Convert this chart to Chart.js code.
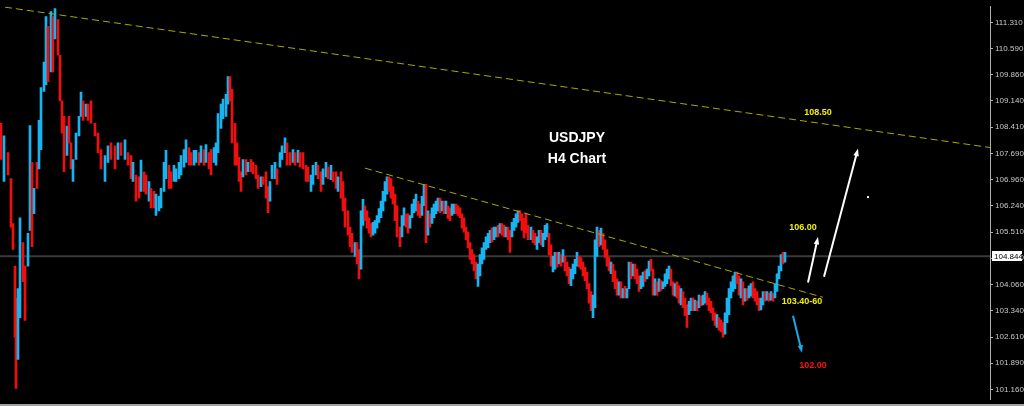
<!DOCTYPE html>
<html>
<head>
<meta charset="utf-8">
<title>USDJPY H4 Chart</title>
<script src="https://cdn.jsdelivr.net/npm/chart.js@4.4.1/dist/chart.umd.min.js"></script>
<style>
    html, body { margin: 0; padding: 0; background: #000; overflow: hidden; }
    #chartContainer { width: 1024px; height: 406px; }
</style>
</head>
<body>
<div id="chartContainer"><canvas id="chartCanvas" width="1024" height="406"></canvas></div>
<script>
// Bar position (H4 bars from the left edge)
const bars = [
    1,4,8,11,13,15,16,18,20,23,25,28,30,32,34,37,39,41,44,46,48,51,53,55,58,60,62,64,67,69,71,73,76,79,81,83,86,88,91,95,98,101,105,108,111,115,118,121,125,128,
    131,133,136,139,141,144,146,149,151,154,156,159,161,164,166,169,171,174,176,179,181,184,186,189,191,194,196,199,201,204,206,209,211,214,216,218,221,223,226,228,230,232,235,237,239,241,243,246,248,251,253,256,258,261,263,266,268,
    270,272,275,277,280,282,285,287,290,293,295,298,300,303,306,308,311,313,316,318,321,323,326,328,331,333,336,338,341,343,345,348,350,352,355,357,359,361,363,365,367,369,371,373,375,377,379,381,383,385,387,389,391,393,395,397,
    400,402,404,406,408,410,412,414,416,418,420,422,424,426,428,430,432,434,436,438,440,442,444,446,448,450,452,454,456,458,460,462,464,466,468,470,472,474,476,478,480,482,484,486,488,490,492,494,496,498,500,502,504,506,508,510,512,514,516,518,520,522,524,
    526,528,531,533,535,537,539,541,543,545,547,549,551,553,555,557,559,561,563,565,567,569,571,573,575,577,579,581,583,585,587,589,591,593,595,597,599,601,603,605,607,609,611,613,615,617,619,621,623,625,627,629,631,633,635,637,639,641,643,645,647,649,651,653,655,
    657,659,661,663,665,667,669,671,673,675,677,679,681,683,685,687,689,691,693,695,697,699,701,703,705,707,709,711,713,715,717,719,721,723,725,727,729,731,733,735,737,739,741,743,745,747,749,751,753,755,757,759,761,763,765,767,769,771,773,775,777,779,781,783,785
];

const highs = [
    108.52,108.17,107.71,106.99,105.75,104.57,103.69,103.95,105.91,105.22,104.57,105.48,108.46,107.44,106.72,107.44,108.60,109.51,110.21,111.47,111.20,111.61,111.47,111.69,111.39,110.40,109.14,108.71,108.44,108.71,107.98,107.52,108.25,108.71,109.38,109.14,109.05,109.05,109.14,108.52,108.25,107.79,107.63,107.90,107.98,107.90,107.98,107.98,108.06,107.71,
    107.63,107.44,107.09,107.04,107.50,107.18,107.09,106.91,106.72,106.64,106.56,106.50,106.72,107.44,107.77,107.36,107.18,107.36,107.26,107.44,107.63,107.79,108.06,107.85,107.71,107.77,107.77,107.71,107.90,107.79,107.93,107.71,107.79,107.85,107.98,108.79,109.05,109.19,109.32,109.81,109.81,109.46,108.52,107.98,107.58,107.18,107.52,107.52,107.44,107.52,107.44,107.36,107.09,107.04,107.04,107.18,106.77,
    106.91,107.36,107.44,107.26,107.71,107.90,108.12,107.98,107.71,107.79,107.71,107.77,107.71,107.71,107.36,107.31,107.09,107.36,107.44,107.36,107.18,107.26,107.44,107.31,107.36,107.18,107.18,107.04,107.18,106.91,106.45,106.10,105.65,105.48,105.22,105.22,105.03,106.10,106.42,106.24,106.10,105.91,105.75,105.78,105.83,105.97,106.16,106.37,106.64,106.91,107.04,107.04,106.99,106.77,106.56,106.24,
    105.65,105.97,106.18,106.02,106.02,105.97,106.29,106.42,106.56,106.37,106.29,106.50,106.83,106.83,106.10,106.02,106.18,106.29,106.37,106.45,106.45,106.37,106.37,106.37,106.24,106.18,106.29,106.29,106.29,106.24,106.18,106.02,105.91,105.65,105.51,105.22,105.03,104.89,104.68,104.63,104.89,105.08,105.22,105.38,105.48,105.56,105.62,105.65,105.65,105.70,105.75,105.75,105.70,105.65,105.65,105.56,105.78,105.89,106.02,106.10,106.10,106.02,105.89,
    106.02,105.70,105.65,105.56,105.48,105.38,105.56,105.56,105.48,105.70,105.75,105.48,105.16,104.84,104.95,104.95,104.95,104.89,105.03,104.84,104.68,104.54,104.49,104.63,104.76,104.95,104.84,104.81,104.68,104.54,104.41,104.09,103.87,103.77,105.30,105.65,105.56,105.62,105.48,105.30,105.03,104.81,104.68,104.63,104.44,104.22,104.14,104.14,103.95,104.01,103.95,104.68,104.68,104.63,104.63,104.49,104.30,104.30,104.41,104.44,104.49,104.71,104.76,104.49,104.22,
    104.14,104.22,104.17,104.14,104.36,104.49,104.57,104.49,104.14,104.09,104.14,104.03,103.95,103.87,103.69,103.50,103.60,103.69,103.69,103.63,103.60,103.77,103.74,103.77,103.87,103.82,103.69,103.60,103.42,103.28,103.23,103.15,103.09,103.01,103.28,103.69,103.95,104.14,104.30,104.41,104.41,104.30,104.22,104.14,103.95,103.95,104.03,104.09,104.14,103.95,103.87,103.69,103.69,103.87,103.87,103.87,103.82,103.87,103.82,104.09,104.36,104.57,104.89,104.95,104.95
];

const lows = [
    107.52,106.91,107.09,105.65,105.03,102.61,101.19,101.99,103.15,104.14,103.07,104.57,105.56,105.11,106.02,106.72,107.26,107.79,109.40,109.59,109.67,109.94,109.94,110.85,110.40,109.14,108.25,107.18,107.63,107.98,107.26,106.91,107.52,108.17,108.71,108.60,108.71,108.60,108.52,108.17,107.71,107.26,106.91,107.44,107.52,107.26,107.52,107.63,107.52,107.36,
    106.99,106.91,106.37,106.45,106.64,106.64,106.56,106.37,106.18,106.18,105.97,106.10,106.18,106.64,106.99,106.72,106.72,106.91,106.91,106.99,107.09,107.31,107.44,107.36,107.36,107.36,107.44,107.36,107.44,107.36,107.44,107.26,107.09,107.44,107.36,107.71,108.38,108.65,108.71,109.05,109.14,107.98,107.36,107.36,106.91,106.64,107.04,107.09,107.18,107.18,107.12,106.99,106.72,106.77,106.83,106.45,106.05,
    106.37,106.99,106.99,106.83,107.31,107.52,107.71,107.36,107.36,107.44,107.36,107.44,107.31,107.26,106.91,106.91,106.64,106.83,107.09,106.99,106.64,106.83,107.04,106.99,106.96,106.91,106.72,106.64,106.45,106.10,105.65,105.43,105.11,104.95,104.84,104.63,104.22,104.49,105.70,105.83,105.62,105.48,105.38,105.43,105.48,105.62,105.78,105.91,106.10,106.37,106.56,106.64,106.45,106.29,105.83,105.38,
    105.11,105.38,105.70,105.65,105.48,105.62,105.91,106.05,106.10,105.97,105.91,105.97,106.24,105.22,105.43,105.65,105.75,105.91,106.02,106.10,106.05,106.10,106.02,106.02,105.89,105.83,105.97,106.02,106.02,105.97,105.91,105.62,105.51,105.30,105.08,104.76,104.63,104.44,104.22,104.01,104.30,104.63,104.76,105.03,105.08,105.22,105.24,105.30,105.38,105.38,105.48,105.43,105.38,105.38,105.30,104.95,105.38,105.56,105.65,105.78,105.83,105.56,105.35,
    105.48,105.30,105.30,105.22,105.16,105.03,105.22,105.16,105.11,105.30,105.38,104.89,104.57,104.41,104.49,104.54,104.63,104.57,104.68,104.44,104.30,104.09,104.03,104.22,104.36,104.57,104.54,104.49,104.30,104.17,103.95,103.55,103.34,103.15,103.42,104.84,105.11,105.16,105.03,104.81,104.57,104.44,104.36,104.14,103.95,103.77,103.77,103.69,103.69,103.69,103.69,103.95,104.22,104.30,104.22,104.09,103.87,103.95,104.01,104.14,104.22,104.30,104.44,103.77,103.77,
    103.77,103.87,103.90,103.95,104.01,104.09,104.22,104.03,103.77,103.74,103.69,103.55,103.50,103.42,103.20,102.88,103.23,103.34,103.34,103.34,103.34,103.42,103.47,103.50,103.55,103.50,103.34,103.28,103.07,102.93,102.88,102.80,102.75,102.61,102.69,103.01,103.23,103.69,103.87,103.95,104.09,103.77,103.69,103.50,103.60,103.63,103.69,103.74,103.69,103.60,103.50,103.34,103.36,103.50,103.60,103.63,103.60,103.63,103.60,103.69,103.87,104.22,104.44,104.63,104.68
];

// u = bullish (blue) candle, d = bearish (red) candle, ten per chunk
const dirs = [
    'duddddduud', 'duududuuuu', 'dududdddud', 'duuuududdd', 'dduuddudud',
    'dudduddudd', 'uuuuudduuu', 'uuudduudud', 'udduuuuuuu', 'ddddddudud', 'ddduddd',
    'uuuduuuddu', 'dudddduuud', 'duududdudd', 'ddddudduud', 'ddduuuuuuu', 'uddddd',
    'duudduuuud', 'duududuuuu', 'dududduudd', 'dddddddddu', 'uuuuuuduud', 'uddudduuuu', 'ddd',
    'ddudduuduu', 'udduududud', 'dduuuudddd', 'ddduuududd', 'ddudddudud', 'uududdduud', 'uuddu',
    'duduuuuddu', 'dduddduudu', 'duduuddddd', 'uddduuuuuu', 'ddududuudd', 'dduudududu', 'uuudu'
].join('').split('');

// Y axis labels
const tickValues = [111.310, 110.590, 109.860, 109.140, 108.410, 107.690, 106.960, 106.240,
    105.510, 104.790, 104.060, 103.340, 102.610, 101.890, 101.160];

const lastPrice = 104.844;

// Trend lines: [bar, price] end points
const upperTrend = [[5, 111.73], [990, 107.85]];
const lowerTrend = [[365, 107.28], [823, 103.71]];

// Annotations placed in bar / price coordinates
const titleLines = [
    { text: 'USDJPY', x: 577, y: 108.12 },
    { text: 'H4 Chart', x: 577, y: 107.52 }
];
const levelLabels = [
    { text: '108.50', x: 818, y: 108.81, color: '#f0f000' },
    { text: '106.00', x: 803, y: 105.65, color: '#f0f000' },
    { text: '103.40-60', x: 802, y: 103.58, color: '#f0f000' },
    { text: '102.00', x: 813, y: 101.83, color: '#ff1010' }
];
const arrows = [
    { from: [808, 104.12], to: [818, 105.38], color: '#ffffff' },
    { from: [824, 104.28], to: [858, 107.82], color: '#ffffff' },
    { from: [793, 103.20], to: [802, 102.18], color: '#1ea6e8' }
];

const candleData = bars.map((b, i) => ({ x: b, y: [lows[i], highs[i]] }));
const candleColors = bars.map((b, i) => dirs[i] === 'u' ? '#17b4f0' : '#ee1010');

/**
 * Black background
 */
const backgroundPlugin = {
    id: 'background',
    beforeDraw(chart) {
        const c = chart.ctx;
        c.save();
        c.fillStyle = '#000';
        c.fillRect(0, 0, chart.width, chart.height);
        c.restore();
    }
};

function drawArrow(c, x0, y0, x1, y1, color) {
    const ang = Math.atan2(y1 - y0, x1 - x0);
    const head = 8;
    c.strokeStyle = color;
    c.fillStyle = color;
    c.lineWidth = 2;
    c.beginPath();
    c.moveTo(x0, y0);
    c.lineTo(x1 - Math.cos(ang) * head * 0.7, y1 - Math.sin(ang) * head * 0.7);
    c.stroke();
    c.beginPath();
    c.moveTo(x1, y1);
    c.lineTo(x1 - head * Math.cos(ang - 0.35), y1 - head * Math.sin(ang - 0.35));
    c.lineTo(x1 - head * Math.cos(ang + 0.35), y1 - head * Math.sin(ang + 0.35));
    c.closePath();
    c.fill();
}

/**
 * Texts, arrows and the last price box
 */
const annotationPlugin = {
    id: 'annotations',
    afterDraw(chart) {
        const c = chart.ctx;
        const xs = chart.scales.x;
        const ys = chart.scales.y;
        c.save();
        c.textAlign = 'center';
        c.textBaseline = 'middle';

        c.fillStyle = '#ffffff';
        c.font = 'bold 14px "Liberation Sans", Arial, sans-serif';
        titleLines.forEach(t => c.fillText(t.text, xs.getPixelForValue(t.x), ys.getPixelForValue(t.y)));

        c.font = 'bold 9px "Liberation Sans", Arial, sans-serif';
        levelLabels.forEach(t => {
            c.fillStyle = t.color;
            c.fillText(t.text, xs.getPixelForValue(t.x), ys.getPixelForValue(t.y));
        });

        arrows.forEach(a => drawArrow(c,
            xs.getPixelForValue(a.from[0]), ys.getPixelForValue(a.from[1]),
            xs.getPixelForValue(a.to[0]), ys.getPixelForValue(a.to[1]), a.color));

        // small white mark
        c.fillStyle = '#ffffff';
        c.fillRect(xs.getPixelForValue(868) - 1, ys.getPixelForValue(106.48) - 1, 2, 2);

        // last price box on the axis
        const py = Math.round(ys.getPixelForValue(lastPrice));
        const left = chart.chartArea.right + 2;
        c.fillStyle = '#ffffff';
        c.fillRect(left, py - 5, 30, 10);
        c.fillStyle = '#000000';
        c.textAlign = 'left';
        c.font = '8px "Liberation Sans", Arial, sans-serif';
        c.fillText(lastPrice.toFixed(3), left + 2, py + 0.5);

        // bottom border
        c.fillStyle = '#a0a0a0';
        c.fillRect(0, chart.height - 2, chart.width, 2);
        c.restore();
    }
};

const ctx = document.getElementById('chartCanvas').getContext('2d');

const chart = new Chart(ctx, {
    type: 'bar',
    data: {
        datasets: [
            {
                type: 'line',
                data: [{ x: 0, y: lastPrice }, { x: 990, y: lastPrice }],
                borderColor: '#3a3a3a',
                borderWidth: 2,
                pointRadius: 0,
                order: 3
            },
            {
                type: 'bar',
                data: candleData,
                backgroundColor: candleColors,
                barThickness: 2,
                order: 2
            },
            {
                type: 'line',
                data: upperTrend.map(p => ({ x: p[0], y: p[1] })),
                borderColor: '#a8a800',
                borderWidth: 1,
                borderDash: [7, 4],
                pointRadius: 0,
                order: 1
            },
            {
                type: 'line',
                data: lowerTrend.map(p => ({ x: p[0], y: p[1] })),
                borderColor: '#a8a800',
                borderWidth: 1,
                borderDash: [7, 4],
                pointRadius: 0,
                order: 1
            }
        ]
    },
    options: {
        responsive: false,
        animation: false,
        layout: { padding: { top: 0, bottom: 2, left: 0, right: 0 } },
        plugins: {
            legend: { display: false },
            tooltip: { enabled: false }
        },
        scales: {
            x: {
                type: 'linear',
                min: 0,
                max: 990,
                offset: false,
                display: false
            },
            y: {
                position: 'right',
                min: 100.893,
                max: 111.74,
                afterFit: function(scale) { scale.width = 34; },
                afterBuildTicks: function(scale) {
                    scale.ticks = tickValues.map(v => ({ value: v }));
                },
                ticks: {
                    autoSkip: false,
                    color: '#c8c8c8',
                    padding: 2,
                    font: { family: '"Liberation Sans", Arial, sans-serif', size: 8 },
                    callback: function(value) { return Number(value).toFixed(3); }
                },
                grid: {
                    drawOnChartArea: false,
                    drawTicks: true,
                    tickLength: 3,
                    color: '#b0b0b0'
                },
                border: { display: true, color: '#b0b0b0', width: 1 }
            }
        }
    },
    plugins: [backgroundPlugin, annotationPlugin]
});
</script>
</body>
</html>
